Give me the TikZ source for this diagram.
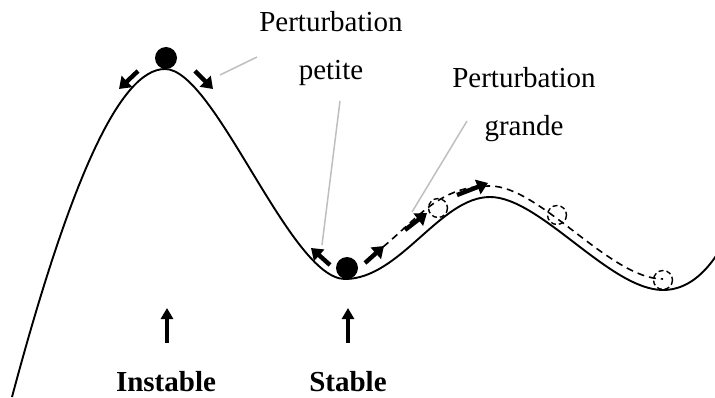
\documentclass[tikz,border=0pt]{standalone}
\usepackage{fontspec}
\setmainfont{Liberation Serif}
\usetikzlibrary{arrows.meta}
\begin{document}
\begin{tikzpicture}[x=1pt,y=-1pt,
  ground/.style={line width=1.9pt},
  ball/.style={fill=black},
  ghost/.style={dashed,dash pattern=on 7pt off 5pt,line width=1.6pt},
  push/.style={line width=4.4pt,-{Triangle[length=11pt,width=15pt]}},
  uparrow/.style={line width=4.4pt,-{Triangle[length=11pt,width=12pt]}},
  leader/.style={line width=1.5pt,draw=black!25},
  lbl/.style={font=\fontsize{29}{30}\selectfont,anchor=base,inner sep=0pt},
  blbl/.style={lbl,font=\fontsize{29}{30}\selectfont\bfseries}]
\useasboundingbox (0,0) rectangle (715,398);

% energy landscape
\draw[ground] (12,397) .. controls (70,180) and (120,69) .. (165,69)
  .. controls (215,69) and (290,279) .. (345,279)
  .. controls (400,279) and (440,197) .. (490,197)
  .. controls (540,197) and (610,290) .. (663,290)
  .. controls (688,290) and (705,272) .. (716,256);

% balls
\fill[ball] (166,58) circle (11);
\fill[ball] (347,268) circle (11);

% path of the strongly perturbed ball
\draw[ghost] (383,247) .. controls (420,216) and (440,186) .. (490,186)
  .. controls (540,186) and (610,279) .. (663,279);
\foreach \p in {(438,208),(557,215),(663,280)}
  \draw[ghost,dash pattern=on 5pt off 3pt,line width=1.4pt] \p circle (9.5);

% small perturbation arrows
\draw[push] (138,71) -- (119,89);
\draw[push] (195,71) -- (213,89);
\draw[push] (330,265) -- (311,248);
% large perturbation arrows
\draw[push] (365,263) -- (384,246);
\draw[push] (405,230) -- (427,213);
\draw[push] (457,195) -- (488,183);

% labels
\node[lbl] (pp1) at (331,32) {Perturbation};
\node[lbl] (pp2) at (331,80) {petite};
\node[lbl] (pg1) at (524,88) {Perturbation};
\node[lbl] (pg2) at (524,136) {grande};
\coordinate (lA) at (257,57);
\coordinate (lB) at (340,101);
\coordinate (lC) at (467,121);
\draw[leader] (lA) -- (220,75);
\draw[leader] (lB) -- (322,245);
\draw[leader] (lC) -- (412,212);

% equilibrium markers
\node[blbl] (inst) at (166,391) {Instable};
\node[blbl] (stab) at (348,391) {Stable};
\coordinate (iA) at (167,343);
\coordinate (sA) at (348,343);
\draw[uparrow] (iA) -- ++(0,-35);
\draw[uparrow] (sA) -- ++(0,-35);
\end{tikzpicture}
\end{document}
